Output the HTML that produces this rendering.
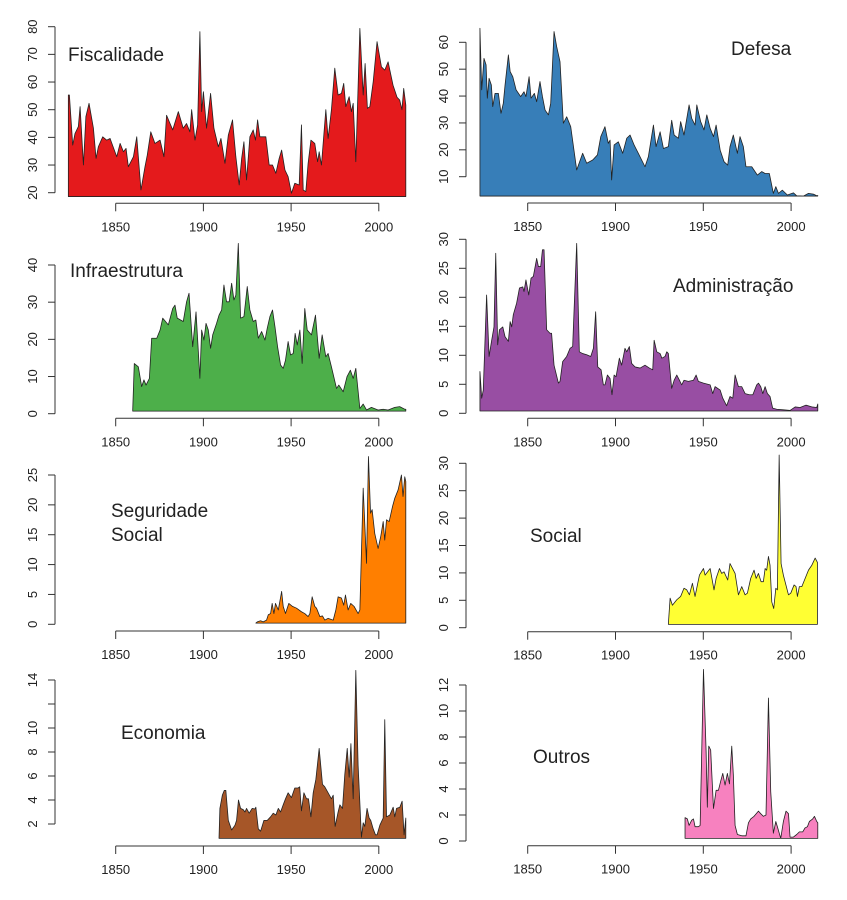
<!DOCTYPE html>
<html><head><meta charset="utf-8"><style>
html,body{margin:0;padding:0;background:#fff;}
svg{display:block;font-family:"Liberation Sans",sans-serif;}
</style></head>
<body>
<svg id="chart" width="847" height="900" viewBox="0 0 847 900" xmlns="http://www.w3.org/2000/svg"></svg>
<script>
const xTickYears = [1850, 1900, 1950, 2000];

const fiscYears = [1823,1823.6,1825.5,1826.8,1828.7,1829.7,1831.6,1833,1834.8,1837.3,1838.8,1840.1,1842.6,1844.9,1846.8,1850.6,1852.5,1854.4,1855.9,1857.2,1860.1,1862,1864.4,1866.7,1868,1870,1872.4,1875.3,1877.5,1879,1882.5,1885.7,1888.5,1890.4,1892.3,1893.3,1895.2,1896.7,1898,1899,1900,1901.8,1904.1,1906,1908.5,1910,1912.3,1914.2,1916.6,1918.5,1920.4,1921.8,1923.1,1924.6,1926.5,1928.4,1929.7,1930.9,1932.2,1935.6,1937.5,1939.4,1941.3,1943.2,1944.6,1946.5,1948.3,1950.2,1952.1,1954.6,1955.9,1956.9,1958.4,1959.7,1961.3,1963.5,1965.1,1966,1967.3,1969.8,1971.1,1973,1974.9,1976.8,1978.7,1980,1981.2,1983.1,1984.4,1985.4,1986.9,1989.2,1991.1,1992.2,1993.5,1994.9,1996.8,1999,2001.5,2003.4,2005.3,2008.1,2010.4,2011.9,2013.2,2014.2,2015.4];
const fiscVals = [55.3,55.3,37.2,41.4,43.9,51.1,30,47.5,52.3,43.3,32.4,36.6,40.2,39,39.6,33,37.8,34.8,36,29.4,33,40.2,21,29.4,33.6,42,37.8,39,33,48,42.7,49.3,43.3,45,42,50,39,44.5,78.2,49.3,56.5,43.3,55.9,43.3,36.6,39.6,30.6,40.8,46.3,33,22.8,32.4,38.4,24.6,40.2,42.7,39,46.3,40.2,40.2,30,30,27,32.4,35.4,28.2,25.8,19.8,23.4,22.8,44.5,21,20.4,30.6,39,37.8,31.2,34.8,30,50,39.6,50,65,55.3,55.9,59.5,51.1,54.7,49.3,52.3,31.2,79.4,55.3,66.7,50.5,51.1,60.1,74.6,65.5,64.3,67.3,58.9,54.5,53.5,50,57.7,51.7];

const defYears = [1822.8,1823.8,1825.1,1826.3,1827,1828,1829.3,1830.1,1831.4,1833.3,1834.8,1836.1,1837.1,1839,1840,1841.5,1843.4,1846,1847.9,1849,1850.8,1851.9,1853.8,1855.1,1857,1858.4,1859.9,1861.8,1863.1,1865,1866.5,1868.4,1870.3,1872.2,1874.5,1877.9,1881.3,1883.6,1887,1889.7,1891.6,1894,1895.9,1896.9,1897.8,1899.2,1901.6,1904.1,1906.4,1908.3,1910.6,1913,1916.8,1918.7,1921.6,1923.1,1925.4,1927.3,1930.1,1932,1933.4,1935.8,1937.1,1939,1941.9,1943.4,1945.3,1946.3,1948.5,1950.4,1952,1953.9,1955.8,1957.3,1959.6,1961.8,1963.9,1965.2,1967.1,1969.4,1970.9,1972.8,1974.3,1977.6,1980.8,1983.3,1985.2,1987.6,1989.9,1991.3,1992.8,1995,1997.9,2001.3,2003.2,2007,2009.9,2012.7,2014.6,2015.2];
const defVals = [65.2,42.3,54,51.6,39.2,46.6,44.1,36.1,41,41,33.6,37.3,44.1,55.3,49.1,47.2,42.3,39.8,41.6,39.8,47.2,39.2,41,37.9,45.4,39.8,34.8,33,37.3,64,58.4,52.8,29.9,32.3,28.6,12.5,18.7,15,16.2,18.1,24.9,28.6,22.4,23.6,8.8,21.8,23,18.7,24.3,25.5,21.8,18.7,13.7,17.4,29.2,21.2,26.7,20.5,21.2,31,25.5,24.3,30.5,25.5,36.7,31.7,29.2,36.7,30.5,27.4,33,28,24.9,29.2,19.9,15.6,14.3,21.2,25.5,18.7,24.9,21.2,13.7,13.7,10.6,11.9,11.2,11.2,3.8,6.3,3.8,5,3.2,4,2.9,2.8,3.8,3.5,2.9,3];

const infYears = [1859.7,1860.6,1862.9,1864.8,1866.1,1867.3,1869.2,1870.5,1873.4,1875.3,1876.8,1880,1882.5,1883.8,1885.1,1888.5,1890.4,1891.8,1893.9,1895.8,1898,1899,1900.3,1901.5,1902.8,1904.1,1905.3,1907.5,1908.9,1910.4,1911.7,1913.2,1914.7,1916.1,1917.4,1918.5,1919.9,1921.2,1923.1,1925,1926.5,1928.4,1929.9,1931.3,1933.2,1935.1,1936.4,1937.9,1939.4,1940.8,1942.3,1944,1945.5,1946.8,1948.3,1949.7,1951.2,1952.3,1953.5,1955,1956.3,1957.8,1959.2,1961.6,1963.9,1966,1967.7,1969.8,1971.1,1973,1975.9,1977.2,1979.7,1981.9,1983.8,1985.4,1986.9,1989.2,1991.1,1993,1995.8,1999.6,2002.5,2005.3,2009.1,2011.9,2014.8,2015.4];
const infVals = [1,13.5,12.6,7.3,9.1,7.7,9.5,20.3,20.3,22.5,25.7,23.9,28.3,29.2,25.7,24.8,30.1,32.4,18,27.4,9.5,22.5,19.8,24.3,22.5,17.6,21.2,24.3,26.5,27.9,34.6,30.1,30.1,35.1,30.6,31.9,45.8,25.7,26.1,34.2,27.9,24.8,25.2,20.3,22.1,19.8,23,26.1,27.9,23.4,18,13.1,12.2,14.4,19.4,15.8,16.2,21.6,18.5,22.5,13.5,28.3,22.5,21.2,26.5,14.9,21.2,15.3,16.2,12.6,6.8,7.7,5.9,10,11.7,9.5,12.2,1.4,2.6,1,1.7,1,1.2,1,1.7,1.9,1.2,1.2];

const admYears = [1822.8,1823.8,1824.7,1826.6,1828,1829.5,1830.8,1831.8,1832.9,1833.9,1835.8,1837.1,1839,1840,1840.9,1841.8,1843.7,1845.3,1847.2,1847.9,1849,1850.6,1851.9,1853.2,1855.1,1856.1,1857.4,1858.4,1859.3,1860.8,1862.7,1863.6,1865,1867.5,1868.4,1869.9,1872.2,1874.1,1875.6,1877.9,1879.4,1881.3,1883.6,1885.9,1887.4,1888.7,1889.9,1891.8,1893.1,1894,1895.4,1896.9,1898,1899.2,1900.3,1902.2,1903.5,1905.4,1906.4,1907.9,1909.2,1911.1,1914,1916.8,1919.3,1921.2,1922,1923.5,1925.4,1926.4,1928.2,1929.2,1930.1,1932,1933.4,1934.9,1936.4,1937.7,1939,1941.5,1944.4,1945.9,1947.2,1950.1,1953.9,1955.4,1956.7,1959.6,1961.1,1963.3,1965.2,1966.8,1968.1,1970,1971.9,1973.8,1976.3,1978.2,1980.4,1981.4,1982.7,1983.9,1985.2,1986.5,1988,1989.5,1991.8,1995.6,1999.4,2002.3,2005.1,2008.5,2011.8,2014.6,2015.2];
const admVals = [7.2,2.6,4,20.4,9.8,12.6,14.9,27.6,11.8,14.4,14.9,13.2,12.4,15.8,14.9,17,19,21.6,21.8,21,23,20.4,23.3,23.6,26.7,25.3,25.3,28.2,28.2,14.4,13.8,13.8,8.3,5.2,5.5,8.9,9.8,11.2,11.5,29.3,10.6,10.3,10.1,9.8,11.2,17.5,8,7.5,4.9,4.9,6.6,6,3.2,6.6,6.3,9.5,8.3,11.2,10.6,11.5,8.6,8,7.8,8.3,7.8,7.5,12.6,10.6,10.3,9.5,9.8,10.6,10.3,4.3,5.7,6.6,5.7,4.9,5.7,5.5,5.7,6.6,5.5,5.2,4.9,3.4,4.6,4,2.6,1.3,2.9,2.6,6.6,4.6,4.6,3.4,3.2,3.2,4.9,5.2,4.6,3.4,4.6,3.4,2.9,0.9,0.7,0.6,0.5,1.1,1,1.4,1.1,1,1.6];

const segYears = [1929.9,1930.7,1932.6,1934.1,1936,1937,1938.3,1939.2,1940.2,1941.1,1942.7,1944.6,1945.5,1946.8,1948.7,1950.8,1953.1,1955.9,1957.8,1959.7,1960.7,1962,1963.5,1964.5,1966.4,1967.9,1969.2,1971.1,1974,1975.5,1976.8,1978.7,1980,1981,1982.5,1984,1985.9,1988.2,1989.2,1991.1,1993,1994.1,1995.3,1996.2,1997.7,1999.6,2001.1,2002.5,2003.4,2004.4,2005.9,2007.8,2009.1,2011,2012.9,2013.8,2014.8,2015.4];
const segVals = [0.2,0.4,0.6,0.4,0.7,1.6,1.8,3.5,1.8,3.5,2.4,5.5,3,1.8,3.5,3,2.7,2.1,1.8,1.3,1.8,4.6,3,2.7,1.3,1.4,0.7,1,0.7,2.4,4.6,4.4,3.2,4.9,2.4,3.5,3,1.8,2.4,22.8,10.2,28.1,18.6,19.2,15.2,12.7,14.7,17.2,14.1,17.5,17.2,19.7,21.1,22.5,25,21.4,24.7,23.9];

const socYears = [1930.1,1931.1,1932.4,1934.9,1937.1,1939,1940.6,1942.1,1943.8,1945.3,1947.8,1950.1,1951,1953.9,1956.1,1957.3,1959.2,1960.5,1961.8,1963.9,1965.2,1968.1,1970,1971.9,1973.8,1975.1,1977,1978.9,1980.1,1981.4,1982.9,1984.2,1985.2,1986.1,1987.1,1988,1989,1990.1,1991.3,1992.2,1993.2,1994.3,1995.6,1998.5,1999.8,2001.7,2002.8,2003.6,2004.7,2006.1,2008,2009.9,2011.8,2013.7,2015];
const socVals = [0.7,5.4,4.1,5.1,5.7,7.2,6.9,6,8.1,5.7,9.6,10.8,9.6,10.8,6.9,9,10.8,9.9,10.2,8.7,11.7,9.9,6,7.5,6,6.3,9,10.5,9,9.9,8.4,8.4,10.8,10.5,13,11.4,4.7,3.5,7.2,6.9,31.5,11.7,9.6,6,6.3,7.8,7.5,5.7,7.5,7.5,9,10.5,11.4,12.7,11.9];

const ecoYears = [1908.9,1909.4,1910.8,1911.9,1912.8,1914.2,1916.1,1918,1918.9,1920,1921.2,1922.7,1923.7,1924.6,1926.1,1927.8,1929.4,1929.9,1931.3,1932.6,1934.5,1936.4,1938.3,1939.8,1941.3,1942.7,1944,1945.5,1946.8,1948.3,1950.2,1952.1,1954,1954.9,1955.9,1957.3,1958.8,1959.9,1961.3,1962.6,1964.1,1966,1967.9,1969.2,1971.1,1973,1974,1975.1,1976.8,1977.8,1979.3,1980.6,1982,1983.1,1984.1,1985.4,1986.9,1988.2,1990.1,1991.1,1992,1993.3,1994.5,1995.4,1996.8,1998.1,1999,2000.6,2002.5,2003.4,2004.4,2006.3,2008.2,2009.1,2010.1,2012,2013.3,2014.4,2015.4];
const ecoVals = [0.8,3.3,4.4,4.8,4.8,2.3,1.5,1.9,2.3,4,3.3,3.2,3,3.3,2.9,3.3,3.25,3.4,1.6,1.4,2.3,2.3,2.6,2.9,2.75,3.3,3,3.6,4.1,4.6,4.2,5,5,5.1,3.1,4.6,4.1,4.1,2.6,4.6,5.7,8.3,5.3,5.1,4.6,4.1,4.4,1.8,3,3.6,3.3,6.1,8.3,5.9,8.7,4.1,14.8,6.9,0.9,2.1,1.8,3.3,2.5,2.3,1.6,1.1,1.1,1.9,2.5,10.7,2.6,2.75,3.4,2.6,3.3,3.4,3.9,1.1,2.5];

const outYears = [1939.6,1940.9,1941.9,1943.4,1944.4,1945.3,1947.2,1948.2,1950.1,1951.6,1952.3,1953.1,1954.2,1955.8,1957.3,1958.6,1959.9,1961.1,1962.4,1963.7,1964.9,1966.2,1967.1,1968.1,1969.4,1971.9,1974.3,1975.7,1977,1978.9,1981.4,1982.7,1984.2,1985.7,1987.1,1988.4,1989.9,1991.3,1992.4,1994.1,1995.6,1997.1,1998.5,1999.4,2001.3,2003.2,2004.7,2006.6,2007.9,2009.3,2010.4,2012.3,2013.3,2014.6,2015.2];
const outVals = [1.8,1.7,1.2,1.6,1.7,1.1,1.1,1.2,13.2,6.9,2.6,7.3,7,2.5,3.9,3.9,4.6,5.2,4.3,5.2,4.4,7.3,5.1,1.2,0.5,0.4,0.4,1.4,1.7,1.9,2.3,2.1,1.9,2,11,3.8,0.6,1.5,1,0.2,1.5,2.3,2.1,0.3,0.3,0.5,0.7,0.7,1,1.1,1.5,1.7,1.9,1.5,1.4];

const fiscTicks = [20,30,40,50,60,70,80];
const defTicks = [10,20,30,40,50,60];
const infTicks = [0,10,20,30,40];
const admTicks = [0,5,10,15,20,25,30];
const segTicks = [0,5,10,15,20,25];
const socTicks = [0,5,10,15,20,25,30];
const ecoTicks = [2,4,6,8,10,12,14];
const ecoTickLabels = ["2","4","6","8","10","","14"];
const outTicks = [0,2,4,6,8,10,12];

const NS = "http://www.w3.org/2000/svg";
const svg = document.getElementById("chart");
function mk(tag, attrs, parent){
  const e = document.createElementNS(NS, tag);
  for (const k in attrs) e.setAttribute(k, attrs[k]);
  (parent||svg).appendChild(e);
  return e;
}
const cols = {
  left:  {axisX: 55,  x1850: 115.7, pxPerYr: 1.754},
  right: {axisX: 466, x1850: 527.7, pxPerYr: 1.756}
};
const panels = [
  {key:"fiscalidade", col:"left", years:fiscYears, vals:fiscVals, ticks:fiscTicks, labels:null, v0:20, p0:192.7, v1:80, p1:26.7, base:18.6, xAxisY:203.3, color:"#E41A1C", title:["Fiscalidade"], tx:68, ty:61},
  {key:"defesa", col:"right", years:defYears, vals:defVals, ticks:defTicks, labels:null, v0:10, p0:176.7, v1:60, p1:42.3, base:2.8, xAxisY:203, color:"#377EB8", title:["Defesa"], tx:731, ty:55},
  {key:"infraestrutura", col:"left", years:infYears, vals:infVals, ticks:infTicks, labels:null, v0:0, p0:413.7, v1:40, p1:265, base:0.7, xAxisY:418.3, color:"#4DAF4A", title:["Infraestrutura"], tx:70, ty:277},
  {key:"administracao", col:"right", years:admYears, vals:admVals, ticks:admTicks, labels:null, v0:0, p0:413.3, v1:30, p1:239.3, base:0.4, xAxisY:418.3, color:"#984EA3", title:["Administração"], tx:673, ty:292},
  {key:"seguridade-social", col:"left", years:segYears, vals:segVals, ticks:segTicks, labels:null, v0:0, p0:624.3, v1:25, p1:475, base:0.2, xAxisY:631, color:"#FF7F00", title:["Seguridade","Social"], tx:111, ty:517},
  {key:"social", col:"right", years:socYears, vals:socVals, ticks:socTicks, labels:null, v0:0, p0:627.7, v1:30, p1:463.3, base:0.6, xAxisY:631.7, color:"#FFFF33", title:["Social"], tx:530, ty:542},
  {key:"economia", col:"left", years:ecoYears, vals:ecoVals, ticks:ecoTicks, labels:ecoTickLabels, v0:2, p0:824, v1:14, p1:680, base:0.8, xAxisY:846, color:"#A65628", title:["Economia"], tx:121, ty:739},
  {key:"outros", col:"right", years:outYears, vals:outVals, ticks:outTicks, labels:null, v0:0, p0:841, v1:12, p1:685, base:0.2, xAxisY:845.7, color:"#F781BF", title:["Outros"], tx:533, ty:763}
];

panels.forEach(p => {
  const c = cols[p.col];
  const xs = yr => c.x1850 + (yr - 1850) * c.pxPerYr;
  const ys = v => p.p0 + (v - p.v0) * (p.p1 - p.p0) / (p.v1 - p.v0);
  const g = mk("g", {});
  
  

  let pts = [[xs(p.years[0]), ys(p.base)]];
  for (let i = 0; i < p.years.length; i++) pts.push([xs(p.years[i]), ys(p.vals[i])]);
  pts.push([xs(p.years[p.years.length-1]), ys(p.base)]);
  const area = mk("polygon", {points: pts.map(q => q[0].toFixed(2)+","+q[1].toFixed(2)).join(" "), fill: p.color, stroke: "#222", "stroke-width": 0.8, "stroke-linejoin": "round"}, g);
  
  

  const ya = mk("g", {}, g);
  
  
  const tMin = p.ticks[0], tMax = p.ticks[p.ticks.length-1];
  mk("line", {x1:c.axisX, x2:c.axisX, y1:ys(tMin), y2:ys(tMax), stroke:"#333", "stroke-width":1}, ya);
  p.ticks.forEach((t, i) => {
    const y = ys(t);
    mk("line", {x1:c.axisX-7, x2:c.axisX, y1:y, y2:y, stroke:"#333", "stroke-width":1}, ya);
    const lab = p.labels ? p.labels[i] : String(t);
    if (lab) {
      const tx = c.axisX - 18;
      const te = mk("text", {x:tx, y:y, transform:`rotate(-90 ${tx} ${y})`, "text-anchor":"middle", "font-size":13, fill:"#222"}, ya);
      te.textContent = lab;
      
      
    }
  });

  const xa = mk("g", {}, g);
  
  
  mk("line", {x1:xs(xTickYears[0]), x2:xs(xTickYears[xTickYears.length-1]), y1:p.xAxisY, y2:p.xAxisY, stroke:"#333", "stroke-width":1}, xa);
  xTickYears.forEach(yr => {
    const x = xs(yr);
    mk("line", {x1:x, x2:x, y1:p.xAxisY, y2:p.xAxisY+8, stroke:"#333", "stroke-width":1}, xa);
    const te = mk("text", {x:x, y:p.xAxisY+28, "text-anchor":"middle", "font-size":13, fill:"#222"}, xa);
    te.textContent = String(yr);
    
    
  });

  p.title.forEach((line, i) => {
    const te = mk("text", {x:p.tx, y:p.ty + i*24, "font-size":19, fill:"#222"}, g);
    te.textContent = line;
    
    
  });
});
</script>
</body></html>
